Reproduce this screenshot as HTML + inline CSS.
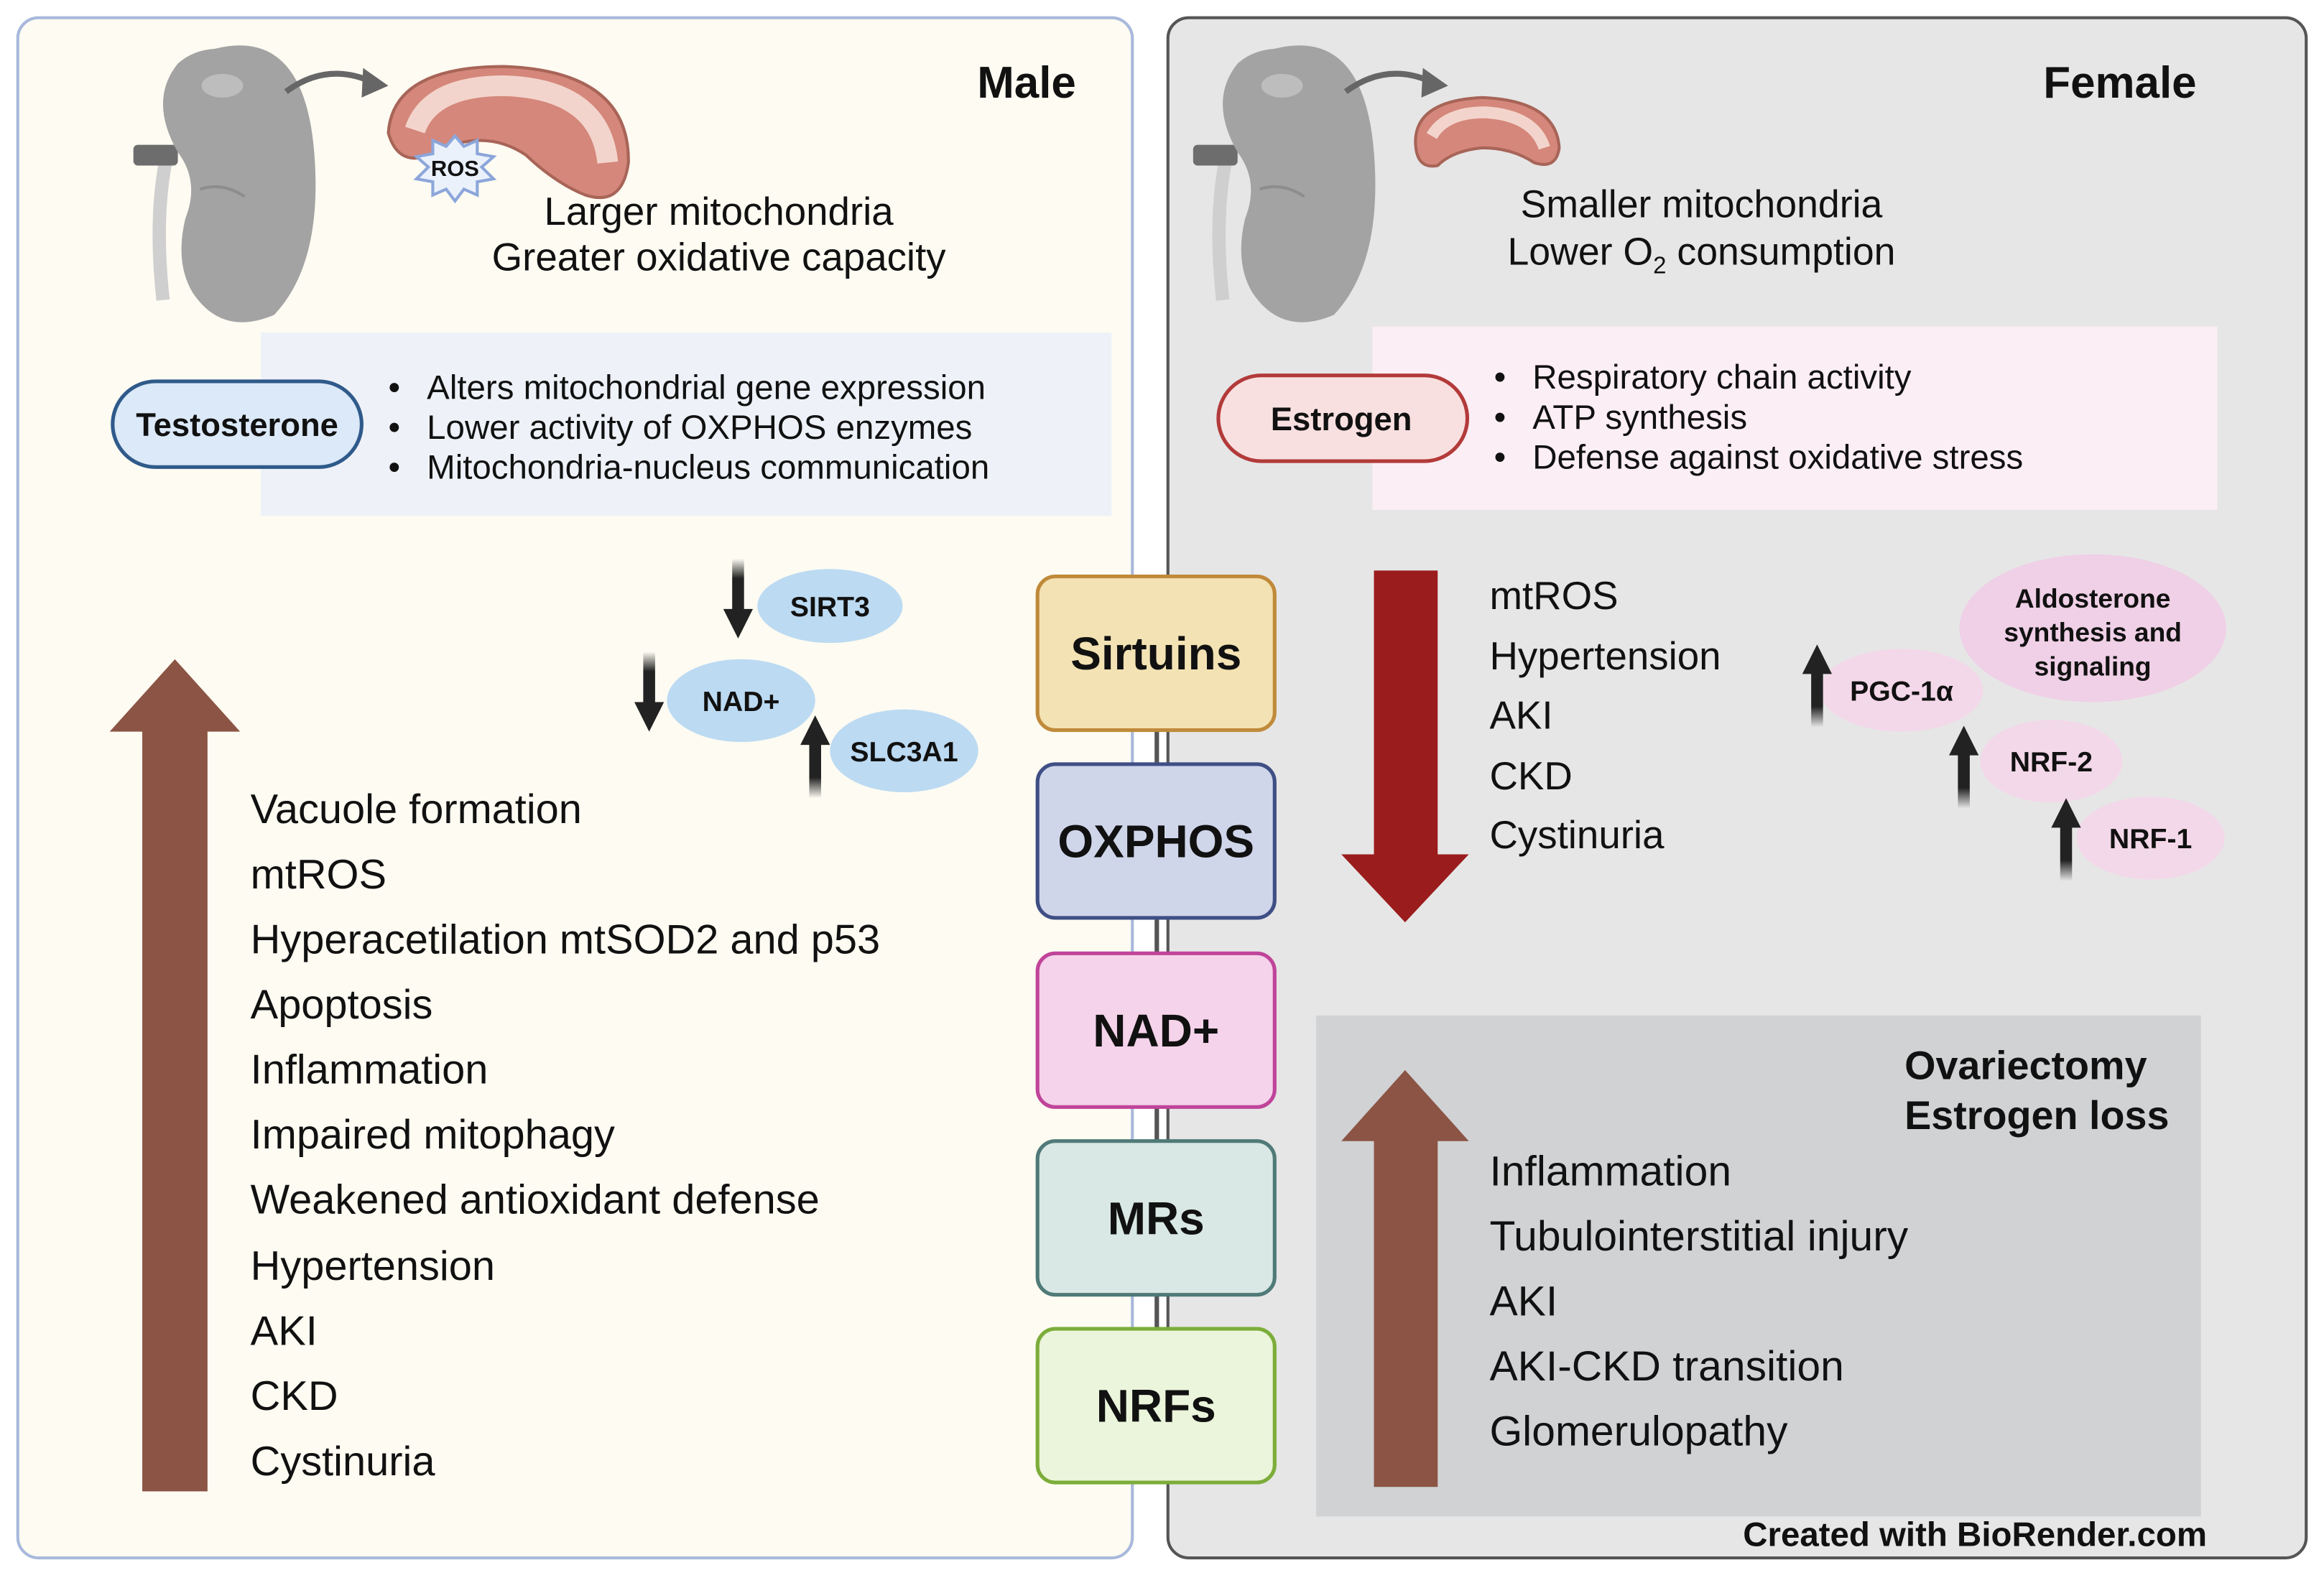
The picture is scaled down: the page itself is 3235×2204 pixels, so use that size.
<!DOCTYPE html>
<html><head><meta charset="utf-8"><style>
html,body{margin:0;padding:0;background:#fff;}
svg{display:block;}
text{font-family:"Liberation Sans",sans-serif;fill:#111;}
.b{font-weight:bold;}
</style></head><body>
<svg width="3235" height="2204" viewBox="0 0 1568 1071" preserveAspectRatio="none" xmlns="http://www.w3.org/2000/svg">
<defs>
<linearGradient id="fd" x1="0" y1="0" x2="0" y2="1"><stop offset="0" stop-color="#222" stop-opacity="0"/><stop offset="0.35" stop-color="#222"/></linearGradient>
<linearGradient id="fu" x1="0" y1="1" x2="0" y2="0"><stop offset="0" stop-color="#222" stop-opacity="0"/><stop offset="0.35" stop-color="#222"/></linearGradient>
<g id="kid">
<path d="M20 175 Q14 120 22 80" stroke="#cfcfcf" stroke-width="9" fill="none"/>
<rect x="0" y="70" width="30" height="14" rx="3" fill="#6d6d6d"/>
<path d="M55 5 Q115 -10 122 75 Q128 150 95 185 Q60 200 40 170 Q28 150 35 120 Q45 95 30 75 Q10 40 30 15 Q40 6 55 5Z" fill="#a3a3a3"/>
<path d="M45 100 Q60 95 75 105" stroke="#8d8d8d" stroke-width="2" fill="none"/>
<ellipse cx="60" cy="30" rx="14" ry="8" fill="#bdbdbd"/>
</g>
</defs>
<rect width="1568" height="1071" fill="#fff"/>
<rect x="12" y="12" width="752" height="1042" rx="14" fill="#fdfbf2" stroke="#a9b9dc" stroke-width="2"/>
<rect x="788" y="12" width="768" height="1042" rx="14" fill="#e6e6e6" stroke="#555" stroke-width="2"/>

<use href="#kid" x="90" y="28"/>
<path d="M193 62 Q220 42 250 55" stroke="#666" stroke-width="4" fill="none"/>
<polygon points="262,58 245,46 244,66" fill="#666"/>
<path d="M262 90 Q265 45 340 45 Q425 48 424 110 Q420 140 395 132 Q375 124 355 105 Q330 88 300 100 Q270 118 262 90Z" fill="#d4877a" stroke="#a86458" stroke-width="2"/>
<path d="M280 88 Q290 58 340 58 Q405 60 410 110" stroke="#f3d4cc" stroke-width="14" fill="none"/>
<polygon points="307,92 313,99 322,95 322,104 333,106 325,113 333,121 322,123 322,132 313,128 307,136 301,128 292,132 292,123 281,121 289,113 281,106 292,104 292,95 301,99" fill="#eaf1fb" stroke="#8ca6da" stroke-width="2"/>
<text x="307" y="119" font-size="15" class="b" text-anchor="middle">ROS</text>
<text x="726" y="66" font-size="30" class="b" text-anchor="end">Male</text>
<text x="485" y="152" font-size="26.5" text-anchor="middle">Larger mitochondria</text>
<text x="485" y="183" font-size="26.5" text-anchor="middle">Greater oxidative capacity</text>

<rect x="176" y="225" width="574" height="124" fill="#eef2f8"/>
<rect x="76" y="258" width="168" height="58" rx="29" fill="#dbe9f8" stroke="#2f5a8a" stroke-width="2.5"/>
<text x="160" y="295" font-size="22" class="b" text-anchor="middle">Testosterone</text>
<g font-size="23"><text x="262" y="270">•</text><text x="288" y="270">Alters mitochondrial gene expression</text>
<text x="262" y="297">•</text><text x="288" y="297">Lower activity of OXPHOS enzymes</text>
<text x="262" y="324">•</text><text x="288" y="324">Mitochondria-nucleus communication</text></g>

<ellipse cx="560" cy="410" rx="49" ry="25" fill="#bcdaf2"/>
<text x="560" y="417" font-size="19" class="b" text-anchor="middle">SIRT3</text>
<ellipse cx="500" cy="474" rx="50" ry="28" fill="#bcdaf2"/>
<text x="500" y="481" font-size="19" class="b" text-anchor="middle">NAD+</text>
<ellipse cx="610" cy="508" rx="50" ry="28" fill="#bcdaf2"/>
<text x="610" y="515" font-size="19" class="b" text-anchor="middle">SLC3A1</text>
<rect x="494" y="378" width="8" height="38" fill="url(#fd)"/><polygon points="488,412 508,412 498,432" fill="#222"/>
<rect x="434" y="441" width="8" height="38" fill="url(#fd)"/><polygon points="428,475 448,475 438,495" fill="#222"/>
<rect x="546" y="500" width="8" height="40" fill="url(#fu)"/><polygon points="540,504 560,504 550,484" fill="#222"/>

<rect x="96" y="494" width="44" height="515" fill="#8b5444"/>
<polygon points="74,495 118,446 162,495" fill="#8b5444"/>
<g font-size="28">
<text x="169" y="557">Vacuole formation</text>
<text x="169" y="601">mtROS</text>
<text x="169" y="645">Hyperacetilation mtSOD2 and p53</text>
<text x="169" y="689">Apoptosis</text>
<text x="169" y="733">Inflammation</text>
<text x="169" y="777">Impaired mitophagy</text>
<text x="169" y="821">Weakened antioxidant defense</text>
<text x="169" y="866">Hypertension</text>
<text x="169" y="910">AKI</text>
<text x="169" y="954">CKD</text>
<text x="169" y="998">Cystinuria</text>
</g>

<rect x="779" y="400" width="3" height="590" fill="#555"/>
<g stroke-width="2.5">
<rect x="700" y="390" width="160" height="104" rx="12" fill="#f3e2b3" stroke="#c08a3a"/>
<rect x="700" y="517" width="160" height="104" rx="12" fill="#d0d6ea" stroke="#3f4f85"/>
<rect x="700" y="645" width="160" height="104" rx="12" fill="#f5d3ea" stroke="#c0449a"/>
<rect x="700" y="772" width="160" height="104" rx="12" fill="#d9e8e5" stroke="#4f7a78"/>
<rect x="700" y="899" width="160" height="104" rx="12" fill="#eaf5db" stroke="#7cad3a"/>
</g>
<g font-size="31" class="b" text-anchor="middle">
<text x="780" y="453" class="b">Sirtuins</text>
<text x="780" y="580" class="b">OXPHOS</text>
<text x="780" y="708" class="b">NAD+</text>
<text x="780" y="835" class="b">MRs</text>
<text x="780" y="962" class="b">NRFs</text>
</g>

<use href="#kid" x="805" y="28"/>
<path d="M908 62 Q935 42 965 55" stroke="#666" stroke-width="4" fill="none"/>
<polygon points="977,58 960,46 959,66" fill="#666"/>
<path d="M955 95 Q956 68 1000 66 Q1050 68 1052 100 Q1050 115 1035 110 Q1020 100 1000 100 Q980 102 970 112 Q955 115 955 95Z" fill="#d4877a" stroke="#a86458" stroke-width="2"/>
<path d="M966 92 Q975 76 1002 76 Q1035 78 1042 100" stroke="#f3d4cc" stroke-width="8" fill="none"/>
<text x="1482" y="66" font-size="30" class="b" text-anchor="end">Female</text>
<text x="1148" y="147" font-size="26" text-anchor="middle">Smaller mitochondria</text>
<text x="1148" y="179" font-size="26" text-anchor="middle">Lower O<tspan font-size="16" dy="6">2</tspan><tspan dy="-6"> consumption</tspan></text>

<rect x="926" y="221" width="570" height="124" fill="#fbeef4"/>
<rect x="822" y="254" width="168" height="58" rx="29" fill="#f9e0e0" stroke="#b33a3a" stroke-width="2.5"/>
<text x="905" y="291" font-size="22" class="b" text-anchor="middle">Estrogen</text>
<g font-size="23"><text x="1008" y="263">•</text><text x="1034" y="263">Respiratory chain activity</text>
<text x="1008" y="290">•</text><text x="1034" y="290">ATP synthesis</text>
<text x="1008" y="317">•</text><text x="1034" y="317">Defense against oxidative stress</text></g>

<rect x="927" y="386" width="43" height="194" fill="#9b1c1c"/>
<polygon points="905,578 948,624 991,578" fill="#9b1c1c"/>
<g font-size="26.5">
<text x="1005" y="412">mtROS</text>
<text x="1005" y="453">Hypertension</text>
<text x="1005" y="493">AKI</text>
<text x="1005" y="534">CKD</text>
<text x="1005" y="574">Cystinuria</text>
</g>

<ellipse cx="1412" cy="425" rx="90" ry="50" fill="#efd0e6"/>
<g font-size="18" class="b" text-anchor="middle">
<text x="1412" y="411" class="b">Aldosterone</text>
<text x="1412" y="434" class="b">synthesis and</text>
<text x="1412" y="457" class="b">signaling</text></g>
<ellipse cx="1283" cy="467" rx="55" ry="28" fill="#f3d8e9"/>
<text x="1283" y="474" font-size="19" class="b" text-anchor="middle">PGC-1α</text>
<ellipse cx="1384" cy="515" rx="48" ry="28" fill="#f3d8e9"/>
<text x="1384" y="522" font-size="19" class="b" text-anchor="middle">NRF-2</text>
<ellipse cx="1451" cy="567" rx="50" ry="28" fill="#f3d8e9"/>
<text x="1451" y="574" font-size="19" class="b" text-anchor="middle">NRF-1</text>
<rect x="1222" y="452" width="8" height="40" fill="url(#fu)"/><polygon points="1216,456 1236,456 1226,436" fill="#222"/>
<rect x="1321" y="507" width="8" height="40" fill="url(#fu)"/><polygon points="1315,511 1335,511 1325,491" fill="#222"/>
<rect x="1390" y="556" width="8" height="40" fill="url(#fu)"/><polygon points="1384,560 1404,560 1394,540" fill="#222"/>

<rect x="888" y="687" width="597" height="339" fill="#d0d2d4"/>
<text x="1285" y="730" font-size="27" class="b">Ovariectomy</text>
<text x="1285" y="764" font-size="27" class="b">Estrogen loss</text>
<rect x="927" y="770" width="43" height="236" fill="#8b5444"/>
<polygon points="905,772 948,724 991,772" fill="#8b5444"/>
<g font-size="28.5">
<text x="1005" y="802">Inflammation</text>
<text x="1005" y="846">Tubulointerstitial injury</text>
<text x="1005" y="890">AKI</text>
<text x="1005" y="934">AKI-CKD transition</text>
<text x="1005" y="978">Glomerulopathy</text>
</g>
<text x="1489" y="1046" font-size="23" class="b" text-anchor="end">Created with BioRender.com</text>
</svg>
</body></html>
